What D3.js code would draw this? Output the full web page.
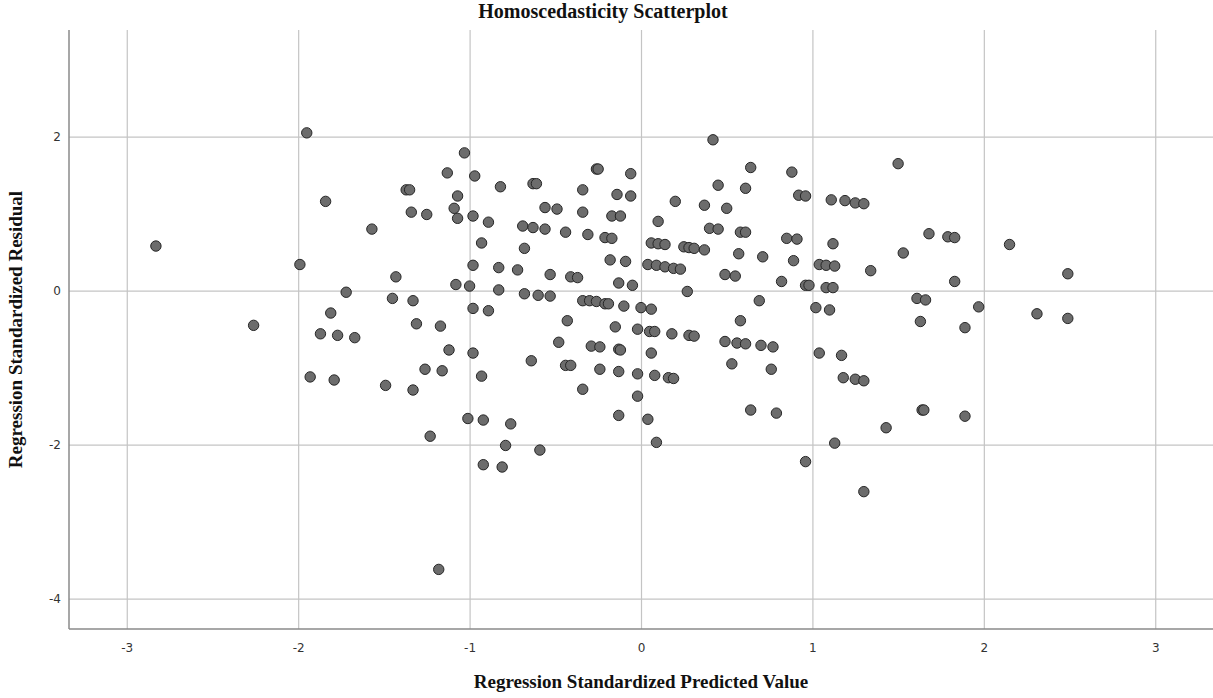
<!DOCTYPE html>
<html>
<head>
<meta charset="utf-8">
<title>Homoscedasticity Scatterplot</title>
<script src="https://cdn.jsdelivr.net/npm/d3@7"></script>
<style>
  body { margin: 0; background: #ffffff; }
  svg { display: block; }
</style>
</head>
<body>
<div id="chart"></div>
<script>
// Regression standardized predicted values (x)
var predicted = [
  -1.95, -1.84, -1.57, -2.83, -1.99, -1.72, -1.43, -1.45, -1.81, -2.26, -1.87, -1.77, -1.67, -1.93, -1.79, -1.49,
  -1.03, -1.13, -0.97, -0.82, -1.37, -1.35, -1.07, -1.09, -1.07, -1.34, -1.25, -0.98, -0.89, -0.93,
  -0.63, -0.61, -0.26, -0.25, -0.06, -0.34, -0.14, -0.06, -0.56, -0.49, -0.34, -0.17, -0.12, 0.10,
  -0.69, -0.63, -0.56, -0.44, -0.31, -0.21, -0.17, -0.68, 0.06, 0.10, 0.14, -0.18, -0.09, 0.04, 0.09, 0.14,
  -0.98, -0.83, -0.72, -0.53, -0.41, -0.37, -1.08, -1.00, -0.83, -0.68, -0.60, -0.53, -0.13, -0.05,
  -1.33, -0.98, -0.89, -0.34, -0.30, -0.26, -0.21, -0.19, -0.10, 0.00, 0.06, -0.43, -0.15, -0.02, 0.05, 0.08,
  -1.31, -1.17, -0.48,
  0.42, 0.64, 0.88, 1.50, 0.45, 0.61, 0.92, 0.96, 1.11, 1.19, 1.25, 1.30, 0.20, 0.37, 0.50,
  0.40, 0.45, 0.58, 0.61, 0.85, 0.91, 1.68, 1.12, 1.53, 0.25, 0.28, 0.31, 0.37, 0.57, 0.71, 0.89,
  1.04, 1.08, 1.13, 1.34, 0.19, 0.23, 0.49, 0.55, 0.82, 0.96, 0.98, 1.08, 1.12, 0.27, 0.69, 1.02, 1.10,
  1.61, 1.66, 1.63, 0.58, 0.18, 0.28, 0.31,
  1.79, 1.83, 2.15, 1.83, 2.49, 1.97, 2.31, 2.49, 1.89,
  -1.12, -0.98, -0.64, -0.29, -0.24, -0.13, -0.12, 0.06, -1.26, -1.16, -0.93, -0.44, -0.41, -0.24, -0.13, -0.02,
  0.08, -1.33, -0.34, -0.02, -1.01, -0.92, -0.76, -0.13, 0.04, -1.23, -0.79, -0.59, 0.09, -0.92, -0.81, -1.18,
  0.49, 0.56, 0.61, 0.70, 0.77, 1.04, 1.17, 0.53, 0.76, 0.16, 0.19, 1.18, 1.25, 1.30, 0.64, 0.79,
  1.64, 1.65, 1.43, 1.13, 0.96, 1.30,
  1.89
];

// Regression standardized residuals (y), same order as above
var residual = [
  2.05, 1.16, 0.80, 0.58, 0.34, -0.02, 0.18, -0.10, -0.29, -0.45, -0.56, -0.58, -0.61, -1.12, -1.16, -1.23,
  1.79, 1.53, 1.49, 1.35, 1.31, 1.31, 1.23, 1.07, 0.94, 1.02, 0.99, 0.97, 0.89, 0.62,
  1.39, 1.39, 1.58, 1.58, 1.52, 1.31, 1.25, 1.23, 1.08, 1.06, 1.02, 0.97, 0.97, 0.90,
  0.84, 0.82, 0.80, 0.76, 0.73, 0.69, 0.68, 0.55, 0.62, 0.61, 0.60, 0.40, 0.38, 0.34, 0.33, 0.31,
  0.33, 0.30, 0.27, 0.21, 0.18, 0.17, 0.08, 0.06, 0.01, -0.04, -0.06, -0.07, 0.10, 0.07,
  -0.13, -0.23, -0.26, -0.13, -0.13, -0.14, -0.17, -0.17, -0.20, -0.22, -0.24, -0.39, -0.47, -0.50, -0.53, -0.53,
  -0.43, -0.46, -0.67,
  1.96, 1.60, 1.54, 1.65, 1.37, 1.33, 1.24, 1.23, 1.18, 1.17, 1.14, 1.13, 1.16, 1.11, 1.07,
  0.81, 0.80, 0.76, 0.76, 0.68, 0.67, 0.74, 0.61, 0.49, 0.57, 0.56, 0.55, 0.53, 0.48, 0.44, 0.39,
  0.34, 0.33, 0.32, 0.26, 0.29, 0.28, 0.21, 0.19, 0.12, 0.07, 0.07, 0.04, 0.04, -0.01, -0.13, -0.22, -0.25,
  -0.10, -0.12, -0.40, -0.39, -0.56, -0.58, -0.59,
  0.70, 0.69, 0.60, 0.12, 0.22, -0.21, -0.30, -0.36, -0.48,
  -0.77, -0.81, -0.91, -0.72, -0.73, -0.76, -0.77, -0.81, -1.02, -1.04, -1.11, -0.97, -0.97, -1.02, -1.05, -1.08,
  -1.10, -1.29, -1.28, -1.37, -1.66, -1.68, -1.73, -1.62, -1.67, -1.89, -2.01, -2.07, -1.97, -2.26, -2.29, -3.62,
  -0.66, -0.68, -0.69, -0.71, -0.73, -0.81, -0.84, -0.95, -1.02, -1.13, -1.14, -1.13, -1.15, -1.17, -1.55, -1.59,
  -1.55, -1.55, -1.78, -1.98, -2.22, -2.61,
  -1.63
];

// Tick values on each axis
var xTicks = [-3, -2, -1, 0, 1, 2, 3];
var yTicks = [-4, -2, 0, 2];

// Size of the page and the plot area
var w = 1213;
var h = 698;
var margin = { top: 30, right: 0, bottom: 69, left: 69 };
var innerW = w - margin.left - margin.right;
var innerH = h - margin.top - margin.bottom;

var svg = d3.select("#chart")
    .append("svg")
    .attr("width", w)
    .attr("height", h);

// Scales (the axis ranges SPSS picked)
var x = d3.scaleLinear()
    .domain([-3.337, 3.337])
    .range([margin.left, margin.left + innerW]);

var y = d3.scaleLinear()
    .domain([-4.394, 3.386])
    .range([margin.top + innerH, margin.top]);

// plain hyphen for negatives, like SPSS
var fmt = function(d) { return String(d); };

// Vertical grid lines + x tick labels
var xAxis = svg.append("g")
    .attr("transform", "translate(0," + (margin.top + innerH) + ")")
    .call(d3.axisBottom(x).tickValues(xTicks).tickSize(-innerH).tickSizeOuter(0).tickFormat(fmt));

// Horizontal grid lines + y tick labels
var yAxis = svg.append("g")
    .attr("transform", "translate(" + margin.left + ",0)")
    .call(d3.axisLeft(y).tickValues(yTicks).tickSize(-innerW).tickSizeOuter(0).tickFormat(fmt));

[xAxis, yAxis].forEach(function(g) {
    g.select(".domain").remove();
    g.selectAll(".tick line").attr("stroke", "#c4c4c4").attr("stroke-width", 1.2);
    g.selectAll(".tick text")
        .style("font-family", "'DejaVu Sans', sans-serif")
        .style("font-size", "12px")
        .attr("fill", "#333");
});
xAxis.selectAll(".tick text").attr("dy", "0").attr("y", 23);
yAxis.selectAll(".tick text").attr("x", -8);

// Left and bottom axis lines
svg.append("line")
    .attr("x1", margin.left).attr("x2", margin.left)
    .attr("y1", margin.top).attr("y2", margin.top + innerH)
    .attr("stroke", "#8a8a8a").attr("stroke-width", 1.5);
svg.append("line")
    .attr("x1", margin.left).attr("x2", margin.left + innerW)
    .attr("y1", margin.top + innerH).attr("y2", margin.top + innerH)
    .attr("stroke", "#8a8a8a").attr("stroke-width", 1.5);

// The points
svg.append("g")
    .selectAll("circle")
    .data(predicted)
    .enter()
    .append("circle")
    .attr("cx", function(d) { return x(d); })
    .attr("cy", function(d, i) { return y(residual[i]); })
    .attr("r", 5.2)
    .attr("fill", "#6c6c6c")
    .attr("stroke", "#262626")
    .attr("stroke-width", 1);

// Title and axis titles
svg.append("text")
    .attr("x", 603)
    .attr("y", 18)
    .attr("text-anchor", "middle")
    .style("font-family", "'Liberation Serif', serif")
    .style("font-weight", "bold")
    .style("font-size", "20px")
    .attr("fill", "#111")
    .text("Homoscedasticity Scatterplot");

svg.append("text")
    .attr("x", margin.left + innerW / 2)
    .attr("y", 688)
    .attr("text-anchor", "middle")
    .style("font-family", "'Liberation Serif', serif")
    .style("font-weight", "bold")
    .style("font-size", "19px")
    .attr("fill", "#111")
    .text("Regression Standardized Predicted Value");

svg.append("text")
    .attr("transform", "translate(22," + (margin.top + innerH / 2) + ") rotate(-90)")
    .attr("text-anchor", "middle")
    .style("font-family", "'Liberation Serif', serif")
    .style("font-weight", "bold")
    .style("font-size", "19px")
    .attr("fill", "#111")
    .text("Regression Standardized Residual");
</script>
</body>
</html>
